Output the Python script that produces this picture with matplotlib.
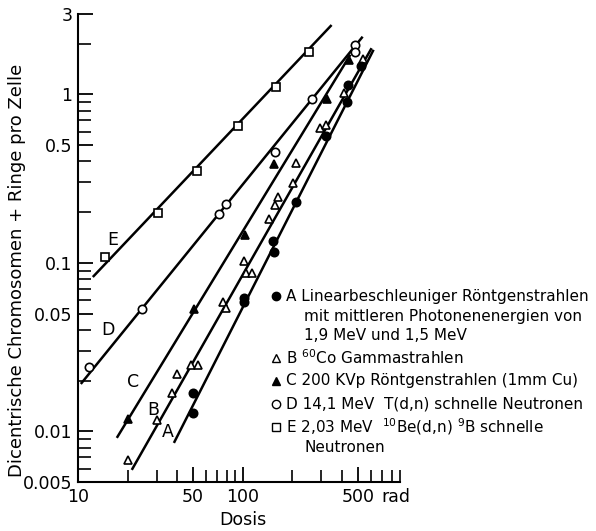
import numpy as np
import matplotlib
matplotlib.use("Agg")
import matplotlib.pyplot as plt
import matplotlib.transforms as mtransforms

plt.rcParams['font.family'] = ['DejaVu Sans']
plt.rcParams['mathtext.fontset'] = 'dejavusans'

# ---- data ----
# E: 2,03 MeV Be(d,n)B neutrons (open squares)
E_dose = [14.6, 30.5, 52.6, 93, 160, 251]
E_val = [0.108, 0.198, 0.351, 0.645, 1.106, 1.78]
E_fit_dose = [12.3, 346]
E_fit_val = [0.0824, 2.58]

# D: 14,1 MeV T(d,n) neutrons (open circles)
D_dose = [11.7, 24.4, 71.6, 78.9, 156, 262, 477, 477]
D_val = [0.0241, 0.0532, 0.196, 0.2236, 0.452, 0.933, 1.96, 1.78]
D_fit_dose = [10.4, 534]
D_fit_val = [0.0191, 2.20]

# C: 200 KVp X-rays (filled triangles)
C_dose = [20.1, 50.5, 102.8, 154, 323, 439]
C_val = [0.0119, 0.0529, 0.147, 0.384, 0.933, 1.60]
C_fit_dose = [17.2, 450]
C_fit_val = [0.00914, 1.72]

# B: 60Co gamma (open triangles)
B_dose = [20.1, 30.1, 37.1, 39.8, 48.4, 53.4, 75.6, 78.9, 101.4, 104.3, 113.4,
          143.8, 156, 163, 201, 209, 293, 318, 409, 534]
B_val = [0.00671, 0.0117, 0.0168, 0.0219, 0.0248, 0.0248, 0.0582, 0.054, 0.1026,
         0.0876, 0.0876, 0.182, 0.2205, 0.246, 0.298, 0.392, 0.632, 0.659, 1.02, 1.63]
B_fit_dose = [21.2, 605]
B_fit_val = [0.0059, 1.88]

# A: linear accelerator X-rays (filled circles)
A_dose = [49.8, 49.8, 101.4, 101.4, 152, 154, 209, 318, 427, 433, 519]
A_val = [0.0168, 0.0129, 0.0622, 0.0582, 0.134, 0.1155, 0.230, 0.5625, 0.90, 1.137, 1.47]
A_fit_dose = [38.2, 622]
A_fit_val = [0.00853, 1.84]

y_ticks = [0.005, 0.01, 0.05, 0.1, 0.5, 1, 3]
y_ticklabels = ["0.005", "0.01", "0.05", "0.1", "0.5", "1", "3"]
x_ticks = [10, 50, 100, 500]
x_ticklabels = ["10", "50", "100", "500"]

legend_lines = [
    ("o", "black", "A Linearbeschleuniger Röntgenstrahlen"),
    (None, None, "mit mittleren Photonenenergien von"),
    (None, None, "1,9 MeV und 1,5 MeV"),
    ("^", "white", r"B $^{60}$Co Gammastrahlen"),
    ("^", "black", "C 200 KVp Röntgenstrahlen (1mm Cu)"),
    ("o", "white", "D 14,1 MeV  T(d,n) schnelle Neutronen"),
    ("s", "white", r"E 2,03 MeV  $^{10}$Be(d,n) $^{9}$B schnelle"),
    (None, None, "Neutronen"),
]

# ---- figure ----
W, H = 596, 531
fig = plt.figure(figsize=(W / 100, H / 100), dpi=100)
ax = fig.add_axes([78 / W, 1 - 482 / H, (400 - 78) / W, (482 - 14) / H])
ax.set_xscale("log")
ax.set_yscale("log")
ax.set_xlim(10, 900)
ax.set_ylim(0.005, 3)

series = [
    (E_dose, E_val, E_fit_dose, E_fit_val, "s", "white"),
    (D_dose, D_val, D_fit_dose, D_fit_val, "o", "white"),
    (C_dose, C_val, C_fit_dose, C_fit_val, "^", "black"),
    (B_dose, B_val, B_fit_dose, B_fit_val, "^", "white"),
    (A_dose, A_val, A_fit_dose, A_fit_val, "o", "black"),
]
for xd, yd, fx, fy, m, fc in series:
    ax.plot(fx, fy, color="black", lw=1.8, solid_capstyle="butt", zorder=2)
    ax.plot(xd, yd, linestyle="none", marker=m, markersize=6,
            markerfacecolor=fc, markeredgecolor="black", markeredgewidth=1.2, zorder=3)

# curve letters
for lbl, x, y in [("E", 16.3, 0.137), ("D", 15.2, 0.040), ("C", 21.5, 0.0196),
                  ("B", 28.5, 0.0134), ("A", 35.1, 0.0099)]:
    ax.text(x, y, lbl, fontsize=12.5, ha="center", va="center")

for s in ["top", "right"]:
    ax.spines[s].set_visible(False)
for s in ["left", "bottom"]:
    ax.spines[s].set_linewidth(1.5)

ax.set_yticks(y_ticks)
ax.set_yticklabels(y_ticklabels)
ax.set_xticks(x_ticks)
ax.set_xticklabels(x_ticklabels)
ax.yaxis.set_minor_locator(matplotlib.ticker.LogLocator(base=10, subs=np.arange(2, 10)))
ax.xaxis.set_minor_locator(matplotlib.ticker.LogLocator(base=10, subs=np.arange(2, 10)))
ax.yaxis.set_minor_formatter(matplotlib.ticker.NullFormatter())
ax.xaxis.set_minor_formatter(matplotlib.ticker.NullFormatter())
ax.tick_params(which="major", direction="in", length=11, width=1.3, labelsize=12.5, pad=4)
ax.tick_params(which="minor", direction="in", length=9, width=1.2)

trans = mtransforms.blended_transform_factory(ax.transData, ax.transAxes)
ax.text(690, -0.012, "rad", transform=trans, fontsize=12.5, ha="left", va="top")

fig.text(243 / W, 1 - 520 / H, "Dosis", fontsize=12.5, ha="center", va="center")
fig.text(17 / W, 1 - 270 / H, "Dicentrische Chromosomen + Ringe pro Zelle",
         fontsize=13, rotation=90, ha="center", va="center")

# legend drawn as text
ys = [296, 316, 336, 358, 381, 404, 427, 448]
for (m, fc, txt), ypx in zip(legend_lines, ys):
    yf = 1 - ypx / H
    if m is not None:
        fig.add_artist(matplotlib.lines.Line2D([276 / W], [yf], marker=m, markersize=6,
                                               markerfacecolor=fc, markeredgecolor="black",
                                               markeredgewidth=1.0, linestyle="none"))
        fig.text(286 / W, yf, txt, fontsize=11, ha="left", va="center")
    else:
        fig.text(304 / W, yf, txt, fontsize=11, ha="left", va="center")

fig.savefig("out.png", dpi=100)
